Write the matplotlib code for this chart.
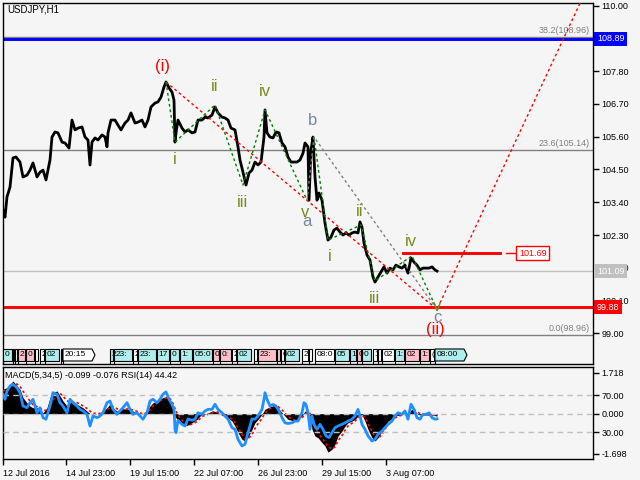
import matplotlib
matplotlib.use("Agg")
import matplotlib.pyplot as plt
import matplotlib.transforms as mtransforms
from matplotlib.patches import Rectangle, Polygon

plt.rcParams['font.family'] = ['Liberation Sans', 'DejaVu Sans']

# --- USDJPY H1 closes (bar position, price) ---
bars = [3, 5, 7, 10, 13, 16, 20, 23, 27, 30, 33, 37, 40, 43, 46, 50, 52, 55, 58, 62,
        65, 69, 72, 75, 78, 82, 85, 88, 90, 92, 95, 98, 102, 105, 107, 108, 111, 115, 118, 121,
        125, 128, 131, 135, 138, 142, 145, 148, 151, 155, 158, 161, 164, 166, 169, 172, 174, 175, 176, 178,
        182, 185, 188, 192, 195, 198, 202, 205, 208, 212, 215, 218, 222, 225, 228, 231, 235, 238, 240, 243,
        246, 249, 252, 255, 258, 261, 264, 265, 267, 270, 273, 276, 279, 282, 285, 288, 291, 294, 297, 300,
        303, 305, 308, 309, 311, 313, 315, 317, 319, 322, 325, 328, 331, 334, 337, 340, 343, 346, 349, 352,
        355, 358, 360, 362, 364, 367, 370, 373, 375, 378, 381, 384, 387, 390, 393, 396, 399, 402, 405, 408,
        411, 414, 417, 420, 423, 426, 429, 432, 435, 437]
close = [103.14, 102.90, 103.58, 103.91, 104.89, 104.92, 104.75, 104.25, 104.31, 104.48, 104.72, 104.25, 104.41, 104.48, 104.15, 104.82, 105.59, 105.76, 105.73, 105.42,
         105.39, 105.22, 106.16, 105.83, 105.89, 105.93, 105.59, 105.49, 104.65, 105.42, 105.56, 105.49, 105.66, 105.59, 105.26, 105.73, 106.16, 106.16, 105.99, 105.83,
         106.06, 106.16, 106.40, 106.06, 106.09, 106.16, 105.93, 106.16, 106.60, 106.73, 106.77, 106.93, 107.27, 107.44, 107.24, 107.10, 106.83, 105.42, 105.73, 106.16,
         105.89, 105.76, 105.83, 105.73, 105.76, 106.16, 106.16, 106.26, 106.23, 106.33, 106.60, 106.40, 106.26, 106.23, 106.16, 105.89, 105.83, 105.26, 104.82, 104.41,
         103.98, 104.38, 104.48, 104.75, 104.65, 104.75, 105.59, 106.50, 105.73, 105.59, 105.56, 105.76, 105.73, 105.39, 105.26, 104.92, 104.75, 104.75, 104.75, 104.82,
         105.05, 105.39, 105.26, 103.47, 105.15, 105.59, 104.25, 103.47, 103.71, 103.47, 102.70, 102.13, 102.23, 102.47, 102.53, 102.40, 102.30, 102.37, 102.30, 102.37,
         102.40, 102.37, 102.74, 102.57, 102.03, 101.63, 101.46, 100.89, 100.72, 100.89, 101.06, 101.23, 101.02, 101.19, 101.13, 101.29, 101.23, 101.19, 101.29, 101.02,
         101.53, 101.39, 101.29, 101.13, 101.19, 101.19, 101.19, 101.23, 101.13, 101.09]

# --- levels ---
fib_levels = [108.96, 105.14, 98.96]
fib_names = ["38.2", "23.6", "0.0"]
resistance = 108.89
support = 99.88
last_price = 101.09
iv_level = 101.69
iv_span = [403, 500]

# --- wave counts ---
major_x = [166, 437, 590]
major_y = [107.44, 99.80, 110.80]
leg1_x = [166, 175, 215, 243, 265, 307]
leg1_y = [107.44, 105.42, 106.67, 103.98, 106.50, 103.47]
abc_x = [307, 314, 437]
abc_y = [103.47, 105.59, 99.80]
leg2_x = [314, 328, 361, 375, 412, 437]
leg2_y = [105.59, 102.13, 102.64, 100.76, 101.60, 99.80]

# --- time axis ---
date_pos = [3, 66, 130, 194, 258, 322, 386]
date_lbl = ["12 Jul 2016", "14 Jul 23:00", "19 Jul 15:00", "22 Jul 07:00",
            "26 Jul 23:00", "29 Jul 15:00", "3 Aug 07:00"]

# --- news events strip ---
ev_x = [3, 13, 15, 18, 26, 35, 40, 45, 61, 63, 110, 114, 133, 138, 157, 170, 180, 193, 213, 220,
        232, 237, 254, 258, 277, 281, 285, 302, 309, 315, 335, 350, 357, 362, 373, 378, 382, 395, 405, 420,
        430, 435]
ev_txt = ["0", "", "", "2", "0", "", "2", "02", "", "20:15", "2", "23:", "2", "23:", "17", "0", "1:", "05:0", "0", "0:",
          "2", "02", "", "23:", "", "6", "02", "2", "", "08:0", "05", "1", "0", "0", "1", "", "02", "1:", "02", "1:",
          "(", "08:00"]
ev_kind = ["c", "w", "w", "p", "p", "w", "w", "c", "w", "w", "c", "c", "w", "c", "c", "c", "c", "c", "p", "p",
           "w", "c", "w", "p", "p", "w", "c", "w", "w", "w", "c", "c", "p", "c", "w", "w", "w", "c", "p", "p",
           "w", "c"]

# --- MACD(5,34,5) + RSI(14) ---
macd_x = [3, 7, 10, 13, 17, 20, 23, 27, 30, 33, 37, 40, 43, 47, 50, 53, 57, 60, 63, 67,
          70, 73, 77, 80, 83, 87, 90, 93, 97, 100, 103, 107, 110, 113, 117, 120, 123, 127, 130, 133,
          137, 140, 143, 147, 150, 153, 157, 160, 163, 167, 170, 173, 175, 177, 180, 183, 187, 190, 193, 197,
          200, 203, 207, 210, 213, 216, 219, 222, 225, 228, 232, 235, 238, 242, 245, 248, 252, 255, 258, 262,
          265, 268, 272, 275, 278, 282, 285, 288, 292, 295, 298, 302, 305, 308, 310, 312, 315, 318, 322, 325,
          328, 332, 335, 338, 342, 345, 348, 352, 355, 358, 362, 365, 368, 372, 375, 378, 382, 385, 388, 392,
          395, 398, 402, 405, 408, 412, 415, 418, 422, 425, 428, 432, 435, 437]
macd = [1.03, 1.10, 1.24, 1.38, 1.17, 1.03, 0.68, 0.46, 0.32, 0.25, 0.25, 0.19, 0.04, 0.25, 0.68, 0.89, 0.96, 0.75, 0.54, 0.32,
        0.46, 0.54, 0.40, 0.32, 0.25, 0.11, 0.00, -0.03, 0.00, 0.04, 0.11, 0.25, 0.40, 0.25, 0.11, 0.19, 0.21, 0.19, 0.19, 0.11,
        0.04, -0.03, 0.00, 0.11, 0.32, 0.46, 0.54, 0.61, 0.68, 0.72, 0.54, 0.19, -0.10, -0.24, -0.38, -0.45, -0.49, -0.45, -0.35, -0.24,
        -0.10, -0.03, 0.00, 0.07, 0.12, 0.08, 0.02, -0.07, -0.10, -0.17, -0.31, -0.52, -0.80, -1.08, -1.15, -1.01, -0.66, -0.38, -0.24, -0.03,
        0.19, 0.25, 0.32, 0.35, 0.25, 0.04, -0.10, -0.24, -0.28, -0.31, -0.24, -0.10, 0.11, 0.11, -0.10, -0.66, -0.94, -1.01, -1.22, -1.36,
        -1.62, -1.50, -1.29, -0.94, -0.73, -0.52, -0.38, -0.31, -0.24, -0.10, -0.03, -0.31, -0.66, -1.01, -1.15, -1.01, -0.73, -0.52, -0.31, -0.21,
        -0.10, -0.07, -0.03, 0.00, 0.04, 0.19, 0.11, -0.03, -0.07, -0.06, -0.04, -0.06, -0.08, -0.099]
signal = [0.95, 1.02, 1.10, 1.22, 1.25, 1.15, 0.95, 0.72, 0.52, 0.38, 0.30, 0.24, 0.15, 0.14, 0.33, 0.58, 0.80, 0.86, 0.74, 0.55,
          0.48, 0.50, 0.47, 0.40, 0.33, 0.22, 0.11, 0.03, 0.00, 0.01, 0.06, 0.15, 0.28, 0.30, 0.21, 0.18, 0.19, 0.20, 0.19, 0.16,
          0.10, 0.03, 0.00, 0.04, 0.17, 0.32, 0.45, 0.54, 0.61, 0.67, 0.64, 0.44, 0.22, 0.02, -0.18, -0.32, -0.42, -0.46, -0.42, -0.33,
          -0.21, -0.10, -0.04, 0.01, 0.06, 0.08, 0.06, 0.00, -0.06, -0.12, -0.22, -0.38, -0.60, -0.86, -1.04, -1.06, -0.88, -0.62, -0.42, -0.20,
          0.02, 0.16, 0.26, 0.32, 0.30, 0.16, 0.02, -0.13, -0.22, -0.28, -0.27, -0.18, -0.02, 0.07, 0.01, -0.30, -0.60, -0.82, -1.03, -1.20,
          -1.40, -1.48, -1.40, -1.15, -0.92, -0.70, -0.52, -0.40, -0.31, -0.18, -0.08, -0.16, -0.42, -0.75, -0.98, -1.05, -0.88, -0.66, -0.45, -0.30,
          -0.18, -0.11, -0.06, -0.02, 0.02, 0.10, 0.13, 0.05, -0.03, -0.05, -0.05, -0.05, -0.07, -0.076]
rsi_x = [3, 5, 7, 10, 13, 17, 20, 23, 27, 30, 33, 37, 40, 43, 46, 50, 53, 57, 60, 63,
         67, 70, 73, 77, 80, 83, 87, 90, 93, 97, 100, 103, 107, 110, 113, 117, 120, 123, 127, 130,
         133, 137, 140, 143, 147, 150, 153, 157, 160, 163, 166, 169, 172, 174, 175, 176, 178, 182, 185, 188,
         192, 195, 198, 202, 205, 208, 212, 215, 218, 222, 225, 228, 232, 235, 238, 242, 245, 248, 252, 255,
         258, 262, 264, 265, 267, 270, 273, 276, 279, 282, 285, 288, 292, 295, 298, 302, 304, 306, 308, 310,
         312, 314, 317, 320, 323, 326, 329, 332, 335, 338, 342, 345, 348, 352, 355, 358, 360, 362, 365, 368,
         372, 375, 378, 382, 385, 388, 392, 395, 398, 402, 405, 408, 411, 414, 417, 420, 423, 426, 429, 432,
         435, 437]
rsi = [71.0, 65.6, 74.5, 80.0, 81.8, 78.0, 72.7, 58.3, 56.5, 61.9, 65.6, 51.0, 56.5, 45.7, 44.0, 58.3, 72.7, 71.0, 61.9, 58.3,
       51.0, 65.6, 61.9, 58.3, 54.7, 53.0, 49.3, 36.7, 47.5, 45.7, 47.5, 51.0, 61.9, 63.7, 54.7, 49.3, 53.0, 56.5, 61.9, 54.7,
       49.3, 51.0, 47.5, 44.0, 51.0, 63.7, 65.6, 61.9, 65.6, 71.0, 73.5, 65.6, 60.0, 54.7, 33.1, 29.5, 42.9, 38.5, 36.7, 44.3,
       42.9, 44.0, 51.0, 49.3, 53.0, 54.7, 54.7, 60.2, 54.7, 51.0, 47.5, 44.3, 34.9, 33.1, 22.3, 15.1, 16.9, 29.5, 44.3, 44.0,
       47.5, 54.7, 65.6, 72.7, 65.6, 58.3, 60.0, 58.3, 53.0, 45.7, 40.1, 39.4, 40.1, 42.0, 42.0, 51.0, 61.9, 60.0, 51.0, 33.1,
       47.5, 38.5, 33.1, 38.5, 33.1, 26.0, 24.2, 29.5, 34.9, 36.7, 38.5, 40.1, 42.0, 44.0, 47.5, 54.7, 47.5, 38.5, 33.1, 26.0,
       20.5, 22.3, 27.7, 31.3, 34.9, 38.5, 42.0, 47.5, 51.0, 49.3, 53.0, 44.0, 60.2, 54.7, 45.7, 44.0, 49.3, 49.3, 51.0, 45.7,
       44.0, 44.42]

BG = '#f5f5f5'
W, H = 640, 480


def box(l, t, r, b):
    return [l / W, 1 - b / H, (r - l) / W, (b - t) / H]


fig = plt.figure(figsize=(6.4, 4.8), dpi=100, facecolor=BG)
ax = fig.add_axes(box(3, 2.7, 593, 364), facecolor=BG)
axi = fig.add_axes(box(3, 367, 593, 459), facecolor=BG)

for a in (ax, axi):
    a.set_xlim(3, 593)
    for s in a.spines.values():
        s.set_color('black')
        s.set_linewidth(1)

# main price panel
ax.set_ylim(97.97, 110.10)
for lev in fib_levels:
    ax.axhline(lev, color='#808080', lw=1, zorder=1)
ax.axhline(last_price, color='#c0c0c0', lw=1, zorder=1)
ax.axhline(resistance, color='#0000ff', lw=2.1, zorder=2)
ax.axhline(support, color='#ff0000', lw=2.1, zorder=2)
ax.plot(iv_span, [iv_level, iv_level], color='#ff0000', lw=2.1, zorder=2)

ax.plot(bars, close, color='black', lw=2.0, zorder=4)

dots = (0, (2, 2))
ax.plot(major_x, major_y, color='red', lw=1, ls=dots, zorder=5)
ax.plot(leg1_x, leg1_y, color='#008000', lw=1, ls=dots, zorder=5)
ax.plot(leg2_x, leg2_y, color='#008000', lw=1, ls=dots, zorder=5)
ax.plot(abc_x, abc_y, color='#808080', lw=1, ls=dots, zorder=5)

olive = '#7a8a1e'
slate = '#778899'
labels = [
    ("(i)", major_x[0], major_y[0], -3, 15, 'red'),
    ("i", leg1_x[1], leg1_y[1], 0, -17, olive),
    ("ii", leg1_x[2], leg1_y[2], 0, 18, olive),
    ("iii", leg1_x[3], leg1_y[3], 0, -18, olive),
    ("iv", leg1_x[4], leg1_y[4], 0, 18, olive),
    ("v", leg1_x[5], leg1_y[5], -2, -12, olive),
    ("a", abc_x[0], abc_y[0], 0, -21, slate),
    ("b", abc_x[1], abc_y[1], -1, 17, slate),
    ("i", leg2_x[1], leg2_y[1], 2, -16, olive),
    ("ii", leg2_x[2], leg2_y[2], -1, 13, olive),
    ("iii", leg2_x[3], leg2_y[3], -1, -18, olive),
    ("iv", leg2_x[4], leg2_y[4], -1, 14, olive),
    ("v", leg2_x[5], leg2_y[5], 0, 3, olive),
    ("c", abc_x[2], abc_y[2], 0, -8, slate),
    ("(ii)", major_x[1], major_y[1], -2, -20, 'red'),
]
for txt, x, y, dx, dy, col in labels:
    ax.annotate(txt, (x, y), xytext=(dx, dy), textcoords='offset pixels',
                ha='center', va='center', fontsize=12, color=col, zorder=6)

for lev, name in zip(fib_levels, fib_names):
    ax.annotate(f"{name}({lev:.2f})", (590, lev), xytext=(0, 2), textcoords='offset pixels',
                ha='right', va='bottom', fontsize=6.5, color='#808080')

# price scale (108.90 is replaced by the resistance label)
yt = [110.0, 108.9, 107.8, 106.7, 105.6, 104.5, 103.4, 102.3, 101.2, 100.1, 99.0]
ax.yaxis.tick_right()
ax.set_yticks(yt)
ax.set_yticklabels(["" if abs(v - resistance) < 0.05 else f"{v:.2f}" for v in yt])
ax.tick_params(axis='y', direction='out', length=4, width=1, labelsize=6.5, pad=2)
ax.set_xticks([])

side = mtransforms.blended_transform_factory(ax.transAxes, ax.transData)
for val, fc in [(resistance, '#0000ff'), (last_price, '#c0c0c0'), (support, '#ff0000')]:
    ax.text(1 + 4 / 590, val, f"{val:.2f}", transform=side, ha='left', va='center',
            fontsize=6.5, color='white', clip_on=False, zorder=10,
            bbox=dict(boxstyle='square,pad=0.3', fc=fc, ec='none'))
ax.plot([506, 516], [iv_level, iv_level], color='red', lw=1, zorder=3, clip_on=False)
ax.text(519, iv_level, f"{iv_level:.2f}", ha='left', va='center', fontsize=6.5, color='red',
        zorder=10, bbox=dict(boxstyle='square,pad=0.3', fc='white', ec='red', lw=1))

# news strip at the foot of the price panel
strip = ax.get_xaxis_transform()
yb = (364 - 361) / 361.3
ytop = (364 - 349) / 361.3
fills = {'c': '#afeeee', 'p': '#ffc0cb', 'w': 'white'}
for i, x0 in enumerate(ev_x):
    nxt = ev_x[i + 1] if i + 1 < len(ev_x) else 10000
    natural = 4 + 5 * len(ev_txt[i]) if ev_txt[i] else 3
    w = max(1, min(natural, nxt - x0 - 1))
    hgt = ytop - yb
    if nxt - x0 > natural + 8:
        patch = Polygon([(x0, yb), (x0 + w, yb), (x0 + w + 3, yb + hgt / 2), (x0 + w, ytop), (x0, ytop)],
                        closed=True, fc=fills[ev_kind[i]], ec='black', lw=0.8,
                        transform=strip, zorder=7)
    else:
        patch = Rectangle((x0, yb), w, hgt, fc=fills[ev_kind[i]], ec='black', lw=0.8,
                          transform=strip, zorder=7)
    ax.add_patch(patch)
    ax.plot([x0, x0], [0, yb], color='black', lw=0.8, transform=strip, zorder=7)
    if ev_txt[i]:
        t = ax.text(x0 + 1.5, yb + hgt / 2, ev_txt[i], transform=strip, ha='left', va='center',
                    fontsize=6, color='black', zorder=8)
        t.set_clip_path(patch)

# indicator panel
lo, hi = -1.91, 1.97
r_lo, r_hi = 1.0, 100.5
axi.set_ylim(lo, hi)
axi.fill_between(macd_x, 0, macd, color='black', lw=0, zorder=2)
axi.plot(macd_x, signal, color='red', lw=1.2, ls=(0, (1.5, 1.5)), zorder=3)
axr = axi.twinx()
axr.set_ylim(r_lo, r_hi)
for lev in (70, 50, 30):
    axr.axhline(lev, color='#c0c0c0', lw=1, ls=(0, (4, 3)), zorder=1)
axr.plot(rsi_x, rsi, color='#1e90ff', lw=2, zorder=4)
axr.set_yticks([])
for s in axr.spines.values():
    s.set_visible(False)


def rsi_on_macd(v):
    return lo + (v - r_lo) / (r_hi - r_lo) * (hi - lo)


axi.yaxis.tick_right()
axi.set_yticks([1.718, rsi_on_macd(70), 0, rsi_on_macd(30), -1.698])
axi.set_yticklabels(["1.718", "70.00", "0.000", "30.00", "-1.698"])
axi.tick_params(axis='y', direction='out', length=4, width=1, labelsize=6.5, pad=2)
axi.set_xticks(date_pos)
axi.set_xticklabels(date_lbl)
axi.tick_params(axis='x', direction='out', length=4, width=1, labelsize=6.5, pad=3)
for lbl in axi.get_xticklabels():
    lbl.set_horizontalalignment('left')

fig.text(7 / W, 1 - 10 / H, "USDJPY,H1", fontsize=7, va='center', ha='left')
fig.text(5 / W, 1 - 376 / H, "MACD(5,34,5) -0.099 -0.076 RSI(14) 44.42",
         fontsize=6.5, va='center', ha='left')

fig.savefig("out.png", dpi=100, facecolor=BG)
